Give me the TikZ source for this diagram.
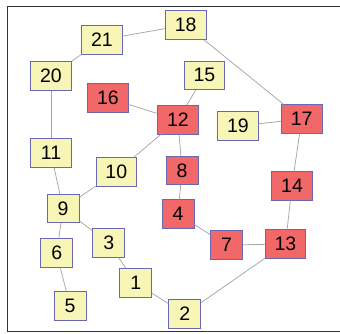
\documentclass[tikz,border=0pt]{standalone}
\usepackage{fontspec}
\setmainfont{Liberation Sans}
\definecolor{yfill}{HTML}{F8F6B6}
\definecolor{rfill}{HTML}{F26868}
\definecolor{bord}{HTML}{6868B4}
\definecolor{edgec}{HTML}{A6A6A6}
\definecolor{framec}{HTML}{333333}
\begin{document}
\begin{tikzpicture}[x=1pt,y=-1pt,
  nbox/.style={draw=bord,line width=0.9pt,minimum height=28.5pt,inner sep=0pt,
    font=\fontsize{19.5}{22}\selectfont},
  wide/.style={nbox,minimum width=40.5pt},
  narrow/.style={nbox,minimum width=32pt},
  yel/.style={fill=yfill},
  red/.style={fill=rfill},
  edge/.style={draw=edgec,line width=0.75pt}]
\useasboundingbox (0,0) rectangle (340,333);
\draw[framec,line width=1.3pt] (340,6.5) -- (7.5,6.5) -- (7.5,331.5) -- (340,331.5);
% nodes
\node[wide,yel] (n18) at (185.7,25) {18};
\node[wide,yel] (n21) at (102,39.7) {21};
\node[wide,yel] (n20) at (51,76) {20};
\node[wide,red] (n16) at (108,98) {16};
\node[wide,red] (n12) at (178,120) {12};
\node[wide,yel] (n15) at (204.5,75.3) {15};
\node[wide,yel] (n19) at (238,126) {19};
\node[wide,red] (n17) at (301.7,119) {17};
\node[wide,yel] (n11) at (51,153) {11};
\node[wide,yel] (n10) at (116.3,172) {10};
\node[narrow,red] (n8) at (182,170.5) {8};
\node[narrow,yel] (n9) at (63,208.5) {9};
\node[narrow,red] (n4) at (178,214) {4};
\node[wide,red] (n14) at (292,186) {14};
\node[narrow,yel] (n3) at (108.7,243) {3};
\node[narrow,yel] (n6) at (56.7,253) {6};
\node[narrow,red] (n7) at (226.5,245) {7};
\node[wide,red] (n13) at (285.5,244) {13};
\node[narrow,yel] (n1) at (135.7,282.7) {1};
\node[narrow,yel] (n5) at (70,306) {5};
\node[narrow,yel] (n2) at (184.7,314) {2};
% edges
\path[edge] (n18) -- (n21);
\path[edge] (n21) -- (n20);
\path[edge] (n20) -- (n11);
\path[edge] (n11) -- (n9);
\path[edge] (n9) -- (n10);
\path[edge] (n10) -- (n12);
\path[edge] (n16) -- (n12);
\path[edge] (n15) -- (n12);
\path[edge] (n12) -- (n8);
\path[edge] (n8) -- (n4);
\path[edge] (n4) -- (n7);
\path[edge] (n7) -- (n13);
\path[edge] (n13) -- (n14);
\path[edge] (n14) -- (n17);
\path[edge] (n19) -- (n17);
\path[edge] (n18) -- (n17);
\path[edge] (n13) -- (n2);
\path[edge] (n2) -- (n1);
\path[edge] (n1) -- (n3);
\path[edge] (n3) -- (n9);
\path[edge] (n9) -- (n6);
\path[edge] (n6) -- (n5);
\end{tikzpicture}
\end{document}
